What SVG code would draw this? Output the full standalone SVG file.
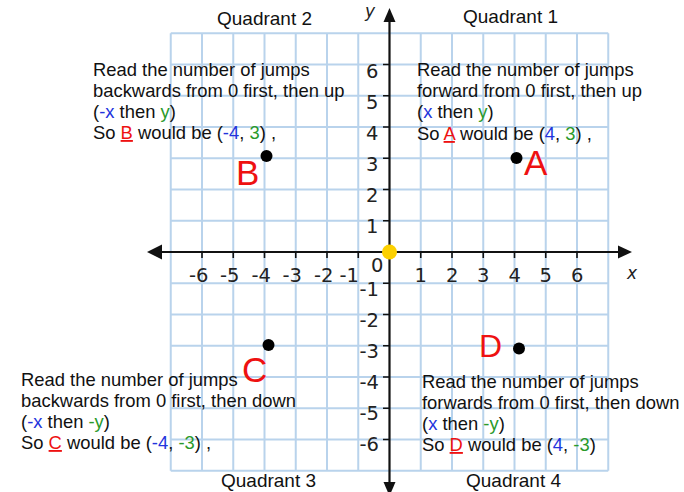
<svg xmlns="http://www.w3.org/2000/svg" width="684" height="492" viewBox="0 0 684 492">
<defs>
<style>
.grid{stroke:#b9d3ec;stroke-width:2;fill:none}
.axis{stroke:#111;stroke-width:2.2;fill:none}
.tick{stroke:#111;stroke-width:1.6}
.num{font-family:"DejaVu Sans",Verdana,sans-serif;font-size:19.5px;fill:#222}
.t{font-family:"Liberation Sans",Arial,sans-serif;font-size:18.4px;fill:#111}
.q{font-family:"Liberation Sans",Arial,sans-serif;font-size:19px;fill:#111}
.big{font-family:"Liberation Sans",Arial,sans-serif;fill:#ee1111}
.bx{fill:#2233dd}
.gy{fill:#2a9a2a}
.rd{fill:#ee1111;text-decoration:underline}
.dot{fill:#000}
.lab{font-family:"DejaVu Sans",Verdana,sans-serif;font-style:italic;font-size:17px;fill:#222}
</style>
</defs>
<rect width="684" height="492" fill="#fff"/>
<g id="grid">
<path class="grid" d="M170.75 33.25V470.75M202 33.25V470.75M233.25 33.25V470.75M264.5 33.25V470.75M295.75 33.25V470.75M327 33.25V470.75M358.25 33.25V470.75M420.75 33.25V470.75M452 33.25V470.75M483.25 33.25V470.75M514.5 33.25V470.75M545.75 33.25V470.75M577 33.25V470.75M608.25 33.25V470.75M170.75 33.25H608.25M170.75 64.5H608.25M170.75 95.75H608.25M170.75 127H608.25M170.75 158.25H608.25M170.75 189.5H608.25M170.75 220.75H608.25M170.75 283.25H608.25M170.75 314.5H608.25M170.75 345.75H608.25M170.75 377H608.25M170.75 408.25H608.25M170.75 439.5H608.25M170.75 470.75H608.25"/>
</g>
<g id="connectors">
<g id="axes">
<path class="axis" d="M158 252H622M389.5 20V484"/>
<polygon points="147,252 162,244.5 162,259.5" fill="#111"/>
<polygon points="632,252 618,245.5 618,258.5" fill="#111"/>
<polygon points="389.5,8 383.5,22 395.5,22" fill="#111"/>
<polygon points="389.5,496 383.5,482 395.5,482" fill="#111"/>
<path class="tick" d="M202 252V258M233.25 252V258M264.5 252V258M295.75 252V258M327 252V258M358.25 252V258M420.75 252V258M452 252V258M483.25 252V258M514.5 252V258M545.75 252V258M577 252V258M383 64.5H389.5M383 95.75H389.5M383 127H389.5M383 158.25H389.5M383 189.5H389.5M383 220.75H389.5M383 283.25H389.5M383 314.5H389.5M383 345.75H389.5M383 377H389.5M383 408.25H389.5M383 439.5H389.5"/>
</g>
</g>
<g id="x-labels" class="num" text-anchor="end">
<text x="208.5" y="282">-6</text>
<text x="239.5" y="282">-5</text>
<text x="271" y="282">-4</text>
<text x="302" y="282">-3</text>
<text x="333.5" y="282">-2</text>
<text x="359" y="282">-1</text>
<text x="427" y="282">1</text>
<text x="458.5" y="282">2</text>
<text x="489.5" y="282">3</text>
<text x="521" y="282">4</text>
<text x="552" y="282">5</text>
<text x="583.5" y="282">6</text>
<text x="383.5" y="272">0</text>
</g>
<g id="y-labels" class="num" text-anchor="end">
<text x="378.5" y="77.5">6</text>
<text x="378.5" y="108.5">5</text>
<text x="378.5" y="139.5">4</text>
<text x="378.5" y="170.5">3</text>
<text x="378.5" y="201.5">2</text>
<text x="378.5" y="232.5">1</text>
<text x="379" y="296">-1</text>
<text x="379" y="327">-2</text>
<text x="379" y="358">-3</text>
<text x="379" y="389">-4</text>
<text x="379" y="420">-5</text>
<text x="379" y="451">-6</text>
</g>
<g id="axis-names">
<text class="lab" x="627" y="279">x</text>
<text class="lab" x="365" y="17">y</text>
</g>
<g id="origin"><circle cx="389.5" cy="252" r="7.5" fill="#fcd000"/></g>
<g id="point-A"><circle class="dot" cx="516.5" cy="158" r="6"/><text class="big" x="524" y="175" font-size="35">A</text></g>
<g id="point-B"><circle class="dot" cx="266.5" cy="156" r="6"/><text class="big" x="236" y="185" font-size="35">B</text></g>
<g id="point-C"><circle class="dot" cx="268.5" cy="345" r="6"/><text class="big" x="242" y="382" font-size="35">C</text></g>
<g id="point-D"><circle class="dot" cx="519" cy="348.5" r="6"/><text class="big" x="479" y="357" font-size="32">D</text></g>
<g id="quadrant-1">
<text class="q" x="463" y="23">Quadrant 1</text>
<text class="t" x="417" y="76">Read the number of jumps</text>
<text class="t" x="417" y="97">forward from 0 first, then up</text>
<text class="t" x="417" y="118">(<tspan class="bx">x</tspan> then <tspan class="gy">y</tspan>)</text>
<text class="t" x="417" y="140">So <tspan class="rd">A</tspan> would be (<tspan class="bx">4</tspan>, <tspan class="gy">3</tspan>) ,</text>
</g>
<g id="quadrant-2">
<text class="q" x="217" y="25">Quadrant 2</text>
<text class="t" x="93" y="76">Read the number of jumps</text>
<text class="t" x="93" y="97">backwards from 0 first, then up</text>
<text class="t" x="93" y="118">(<tspan class="bx">-x</tspan> then <tspan class="gy">y</tspan>)</text>
<text class="t" x="93" y="139">So <tspan class="rd">B</tspan> would be (<tspan class="bx">-4</tspan>, <tspan class="gy">3</tspan>) ,</text>
</g>
<g id="quadrant-3">
<text class="q" x="221" y="487">Quadrant 3</text>
<text class="t" x="21" y="386">Read the number of jumps</text>
<text class="t" x="21" y="407">backwards from 0 first, then down</text>
<text class="t" x="21" y="428">(<tspan class="bx">-x</tspan> then <tspan class="gy">-y</tspan>)</text>
<text class="t" x="21" y="449">So <tspan class="rd">C</tspan> would be (<tspan class="bx">-4</tspan>, <tspan class="gy">-3</tspan>) ,</text>
</g>
<g id="quadrant-4">
<text class="q" x="466" y="487">Quadrant 4</text>
<text class="t" x="422" y="388">Read the number of jumps</text>
<text class="t" x="422" y="409">forwards from 0 first, then down</text>
<text class="t" x="422" y="430">(<tspan class="bx">x</tspan> then <tspan class="gy">-y</tspan>)</text>
<text class="t" x="422" y="451">So <tspan class="rd">D</tspan> would be (<tspan class="bx">4</tspan>, <tspan class="gy">-3</tspan>)</text>
</g>
</svg>
